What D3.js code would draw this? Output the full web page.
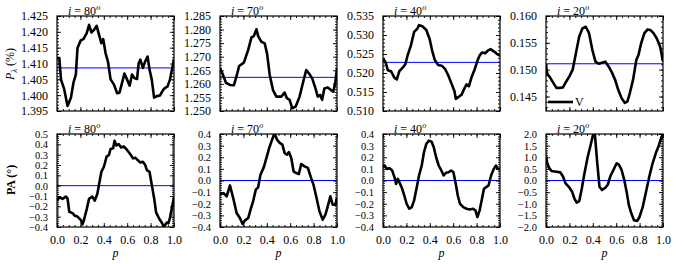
<!DOCTYPE html>
<html>
<head>
<meta charset="utf-8">
<script src="https://cdn.jsdelivr.net/npm/d3@7"></script>
<style>
  body { margin: 0; background: #fff; }
  text { font-family: "Liberation Serif", "DejaVu Serif", serif; fill: #000; }
</style>
</head>
<body>
<svg id="fig" width="684" height="264"></svg>
<script>
// inclinations (one column each)
const titles = ["80", "70", "40", "20"];

// top row: P_lambda (%) vs phase p
const pP80 = [0,0.02,0.034,0.062,0.09,0.119,0.141,0.161,0.175,0.203,0.226,0.254,0.274,0.294,0.316,0.339,0.359,0.379,0.395,0.415,0.435,0.458,0.486,0.514,0.534,0.556,0.576,0.599,0.621,0.641,0.661,0.684,0.698,0.712,0.734,0.754,0.774,0.791,0.81,0.83,0.853,0.881,0.91,0.924,0.944,0.966,0.989,1.0];
const vP80 = [1.4117,1.4117,1.405,1.4018,1.3966,1.3992,1.404,1.4065,1.4149,1.4173,1.4177,1.4196,1.4222,1.4198,1.4206,1.4219,1.4191,1.4164,1.4177,1.4133,1.4107,1.405,1.4034,1.4006,1.4008,1.4039,1.4068,1.4049,1.403,1.4065,1.4054,1.4051,1.4101,1.4112,1.4086,1.4107,1.4122,1.408,1.4049,1.3992,1.3997,1.3999,1.4018,1.4023,1.4027,1.405,1.4092,1.4114];

const pP70 = [0,0.023,0.051,0.085,0.119,0.142,0.164,0.204,0.241,0.269,0.289,0.312,0.326,0.354,0.382,0.402,0.425,0.453,0.482,0.524,0.552,0.572,0.595,0.618,0.646,0.68,0.708,0.737,0.765,0.788,0.816,0.836,0.856,0.873,0.892,0.921,0.949,0.969,0.986,1.0];
const vP70 = [1.2657,1.2636,1.2604,1.2596,1.2595,1.2629,1.2666,1.2678,1.2725,1.2771,1.2776,1.2801,1.2776,1.2755,1.2749,1.2712,1.2633,1.2577,1.2553,1.2553,1.2568,1.2547,1.2541,1.251,1.2516,1.2553,1.2602,1.2651,1.2636,1.262,1.2583,1.2553,1.2559,1.2541,1.2583,1.2587,1.2577,1.2571,1.2608,1.2657];

const pP40 = [0,0.022,0.042,0.07,0.098,0.118,0.14,0.168,0.191,0.21,0.238,0.266,0.294,0.308,0.336,0.37,0.398,0.42,0.443,0.471,0.504,0.532,0.56,0.588,0.611,0.622,0.65,0.672,0.695,0.714,0.734,0.756,0.784,0.807,0.826,0.846,0.874,0.896,0.919,0.947,0.975,1.0];
const vP40 = [0.5239,0.5228,0.5207,0.5204,0.5187,0.5183,0.5205,0.5214,0.5223,0.5246,0.5272,0.5308,0.5317,0.5326,0.5323,0.5313,0.529,0.5259,0.5234,0.5221,0.5219,0.521,0.5192,0.517,0.5152,0.5132,0.5138,0.5143,0.5159,0.517,0.5165,0.5188,0.521,0.5232,0.5246,0.5254,0.5252,0.5259,0.5263,0.5257,0.525,0.5246];

const pP20 = [0,0.011,0.033,0.061,0.089,0.117,0.145,0.173,0.201,0.228,0.256,0.284,0.312,0.34,0.368,0.396,0.423,0.451,0.479,0.507,0.535,0.563,0.591,0.618,0.646,0.674,0.696,0.716,0.744,0.772,0.791,0.813,0.841,0.869,0.891,0.919,0.947,0.975,1.0];
const vP20 = [0.1509,0.1492,0.1486,0.1476,0.1466,0.1466,0.1467,0.1478,0.1488,0.15,0.1531,0.1562,0.1577,0.158,0.1568,0.1537,0.1515,0.1511,0.1513,0.1515,0.1506,0.1495,0.1481,0.1462,0.1447,0.1438,0.1441,0.1456,0.1481,0.1518,0.1528,0.1549,0.1568,0.1575,0.1574,0.1568,0.1558,0.1543,0.1515];

// mean levels (blue lines), top row
const meanP = [1.4086, 1.2624, 0.5228, 0.1511];

// bottom row: PA (deg) vs phase p
const pA80 = [0,0.02,0.048,0.076,0.09,0.105,0.133,0.153,0.175,0.203,0.218,0.232,0.254,0.274,0.302,0.322,0.345,0.359,0.379,0.401,0.424,0.444,0.458,0.48,0.492,0.508,0.528,0.548,0.571,0.599,0.627,0.65,0.669,0.689,0.712,0.734,0.754,0.768,0.791,0.811,0.831,0.847,0.876,0.895,0.915,0.938,0.952,0.966,0.98,1.0];
const vA80 = [-0.145,-0.112,-0.128,-0.105,-0.122,-0.253,-0.266,-0.292,-0.299,-0.331,-0.374,-0.325,-0.227,-0.128,-0.105,-0.145,-0.079,0.009,0.133,0.183,0.281,0.297,0.356,0.363,0.435,0.389,0.402,0.369,0.379,0.346,0.304,0.264,0.271,0.248,0.225,0.232,0.199,0.15,0.133,0.003,-0.128,-0.259,-0.325,-0.357,-0.397,-0.357,-0.364,-0.308,-0.227,-0.112];

const pA70 = [0,0.028,0.057,0.085,0.113,0.142,0.17,0.193,0.212,0.241,0.261,0.283,0.306,0.326,0.346,0.374,0.397,0.419,0.448,0.467,0.487,0.51,0.533,0.552,0.572,0.589,0.609,0.629,0.652,0.674,0.694,0.722,0.751,0.779,0.799,0.822,0.85,0.878,0.901,0.921,0.943,0.963,0.986,1.0];
const vA70 = [-0.122,-0.108,-0.136,-0.042,-0.151,-0.28,-0.323,-0.374,-0.345,-0.323,-0.251,-0.179,-0.079,-0.059,0.05,0.113,0.194,0.274,0.36,0.405,0.351,0.323,0.308,0.237,0.222,0.245,0.194,0.079,0.064,0.056,0.142,0.122,0.108,0.021,-0.036,-0.136,-0.265,-0.337,-0.294,-0.222,-0.136,-0.208,-0.208,-0.151];

const pA40 = [0,0.014,0.034,0.056,0.078,0.098,0.112,0.126,0.14,0.162,0.182,0.202,0.224,0.246,0.266,0.286,0.308,0.331,0.35,0.37,0.392,0.415,0.434,0.454,0.476,0.499,0.518,0.538,0.56,0.583,0.602,0.622,0.639,0.658,0.686,0.714,0.742,0.77,0.79,0.807,0.826,0.846,0.863,0.882,0.902,0.924,0.947,0.966,0.98,1.0];
const vA40 = [0.114,0.129,0.1,0.106,0.086,0.029,-0.029,0.014,-0.014,-0.066,-0.129,-0.2,-0.243,-0.229,-0.171,-0.071,0.043,0.129,0.243,0.314,0.343,0.334,0.286,0.2,0.129,0.086,0.043,0.066,0.071,0.086,0.071,-0.029,-0.129,-0.2,-0.229,-0.243,-0.249,-0.243,-0.257,-0.314,-0.257,-0.157,-0.071,-0.057,-0.043,0.043,0.1,0.129,0.1,0.094];

const pA20 = [0,0.011,0.028,0.047,0.089,0.123,0.145,0.167,0.195,0.223,0.242,0.262,0.284,0.306,0.326,0.354,0.382,0.401,0.418,0.437,0.457,0.479,0.507,0.529,0.549,0.577,0.604,0.624,0.646,0.669,0.689,0.708,0.73,0.752,0.78,0.799,0.827,0.855,0.883,0.911,0.939,0.967,0.986,1.0];
const vA20 = [1.03,0.74,0.53,0.41,0.38,0.35,0.17,-0.12,-0.27,-0.48,-0.77,-0.95,-0.89,-0.34,0.24,0.96,1.54,1.94,1.97,0.82,-0.27,-0.41,-0.31,-0.17,0.17,0.46,0.74,0.67,0.46,0.02,-0.48,-1.06,-1.42,-1.71,-1.74,-1.57,-1.13,-0.48,0.17,0.74,1.18,1.54,1.86,2.0];

const meanA = [0, 0, 0, 0];

// axis limits and ticks
const ylimP = [[1.395, 1.425], [1.250, 1.285], [0.510, 0.535], [0.1423, 0.160]];
const yticksP = [
  [1.395,1.400,1.405,1.410,1.415,1.420,1.425],
  [1.250,1.255,1.260,1.265,1.270,1.275,1.280,1.285],
  [0.510,0.515,0.520,0.525,0.530,0.535],
  [0.145,0.150,0.155,0.160]
];
const ylimA = [[-0.4, 0.5], [-0.4, 0.4], [-0.4, 0.4], [-2.0, 2.0]];
const yticksA = [
  [-0.4,-0.3,-0.2,-0.1,0.0,0.1,0.2,0.3,0.4,0.5],
  [-0.4,-0.3,-0.2,-0.1,0.0,0.1,0.2,0.3,0.4],
  [-0.4,-0.3,-0.2,-0.1,0.0,0.1,0.2,0.3,0.4],
  [-2.0,-1.5,-1.0,-0.5,0.0,0.5,1.0,1.5,2.0]
];
const xticks = [0.0, 0.2, 0.4, 0.6, 0.8, 1.0];
const legendLabel = "V";

// layout
const lefts = [57, 220, 383, 546];
const pw = 117;
const rowTop = [16, 134];
const ph = [95, 93];
const ytickFont = [12, 10.5];

const svg = d3.select("#fig");

// minor tick values between the majors
function minors(ticks, n, lim) {
  const step = (ticks[1] - ticks[0]) / n;
  const out = [];
  const start = ticks[0] - Math.ceil((ticks[0] - lim[0]) / step - 1e-6) * step;
  for (let v = start; v <= lim[1] + 1e-9; v += step) {
    if (v >= lim[0] - 1e-9) out.push(v);
  }
  return out;
}

function panel(col, row, ps, vs, mean, ylim, yt, fmt) {
  const h = ph[row];
  const g = svg.append("g")
    .attr("transform", "translate(" + lefts[col] + "," + rowTop[row] + ")");

  const x = d3.scaleLinear().domain([0, 1]).range([0, pw]);
  const y = d3.scaleLinear().domain(ylim).range([h, 0]);

  const id = "clip" + row + col;
  g.append("clipPath").attr("id", id)
    .append("rect").attr("width", pw).attr("height", h);

  // mean line
  g.append("line")
    .attr("x1", 0).attr("x2", pw)
    .attr("y1", y(mean)).attr("y2", y(mean))
    .attr("stroke", "#0000ff").attr("stroke-width", 1);

  // curve
  const line = d3.line()
    .x((d, i) => x(ps[i]))
    .y(d => y(d));
  g.append("path")
    .datum(vs)
    .attr("clip-path", "url(#" + id + ")")
    .attr("fill", "none")
    .attr("stroke", "#000")
    .attr("stroke-width", 2.6)
    .attr("stroke-linejoin", "round")
    .attr("d", line);

  // ticks, inside on all sides
  const xmin = minors(xticks, 4, [0, 1]);
  const ymin = minors(yt, 5, ylim);
  const mk = [
    [d3.axisBottom(x).tickValues(xticks).tickSize(-4), "translate(0," + h + ")", row === 1],
    [d3.axisBottom(x).tickValues(xmin).tickSize(-2), "translate(0," + h + ")", false],
    [d3.axisTop(x).tickValues(xticks).tickSize(-4), null, false],
    [d3.axisTop(x).tickValues(xmin).tickSize(-2), null, false],
    [d3.axisLeft(y).tickValues(yt).tickSize(-4), null, true],
    [d3.axisLeft(y).tickValues(ymin).tickSize(-2), null, false],
    [d3.axisRight(y).tickValues(yt).tickSize(-4), "translate(" + pw + ",0)", false],
    [d3.axisRight(y).tickValues(ymin).tickSize(-2), "translate(" + pw + ",0)", false]
  ];
  mk.forEach(([ax, tr, labels], k) => {
    if (k === 0) ax.tickFormat(d3.format(".1f")).tickPadding(8);
    else if (k === 4) ax.tickFormat(d3.format(fmt)).tickPadding(9);
    else ax.tickFormat("");
    const a = g.append("g").call(ax);
    if (tr) a.attr("transform", tr);
    a.select(".domain").remove();
    a.selectAll("line").attr("stroke", "#000").attr("stroke-width", 0.9);
    a.selectAll("text")
      .attr("font-family", '"Liberation Serif", serif')
      .attr("font-size", k === 4 ? ytickFont[row] : 12)
      .style("display", labels ? null : "none");
  });

  // frame
  g.append("rect")
    .attr("width", pw).attr("height", h)
    .attr("fill", "none").attr("stroke", "#000").attr("stroke-width", 1.2);

  // title
  const t = g.append("text")
    .attr("x", 11).attr("y", -1.5)
    .attr("font-size", 12);
  t.append("tspan").attr("font-style", "italic").text("i");
  t.append("tspan").text(" = " + titles[col]);
  t.append("tspan").attr("font-style", "italic").attr("font-size", 8).attr("dy", -5).text("o");

  return g;
}

for (let c = 0; c < 4; c++) {
  const pp = [pP80, pP70, pP40, pP20][c];
  const vp = [vP80, vP70, vP40, vP20][c];
  panel(c, 0, pp, vp, meanP[c], ylimP[c], yticksP[c], ".3f");
  const pa = [pA80, pA70, pA40, pA20][c];
  const va = [vA80, vA70, vA40, vA20][c];
  const g = panel(c, 1, pa, va, meanA[c], ylimA[c], yticksA[c], ".1f");
  // x axis label
  g.append("text")
    .attr("x", pw / 2).attr("y", ph[1] + 30)
    .attr("text-anchor", "middle")
    .attr("font-size", 12).attr("font-style", "italic")
    .text("p");
}

// legend in last top panel
const lg = svg.append("g").attr("transform", "translate(" + lefts[3] + "," + rowTop[0] + ")");
lg.append("line")
  .attr("x1", 2).attr("x2", 27).attr("y1", 86).attr("y2", 86)
  .attr("stroke", "#000").attr("stroke-width", 2.6);
lg.append("text")
  .attr("x", 29).attr("y", 90)
  .attr("font-size", 12)
  .text(legendLabel);

// y axis labels
const yl1 = svg.append("text")
  .attr("transform", "translate(14,64) rotate(-90)")
  .attr("text-anchor", "middle")
  .attr("font-size", 12);
yl1.append("tspan").attr("font-style", "italic").text("P");
yl1.append("tspan").attr("font-style", "italic").attr("font-size", 8).attr("dy", 3).text("λ");
yl1.append("tspan").attr("dy", -3).text(" (%)");

svg.append("text")
  .attr("transform", "translate(15,180) rotate(-90)")
  .attr("text-anchor", "middle")
  .attr("font-size", 12)
  .attr("font-weight", "bold")
  .text("PA (°)");
</script>
</body>
</html>
